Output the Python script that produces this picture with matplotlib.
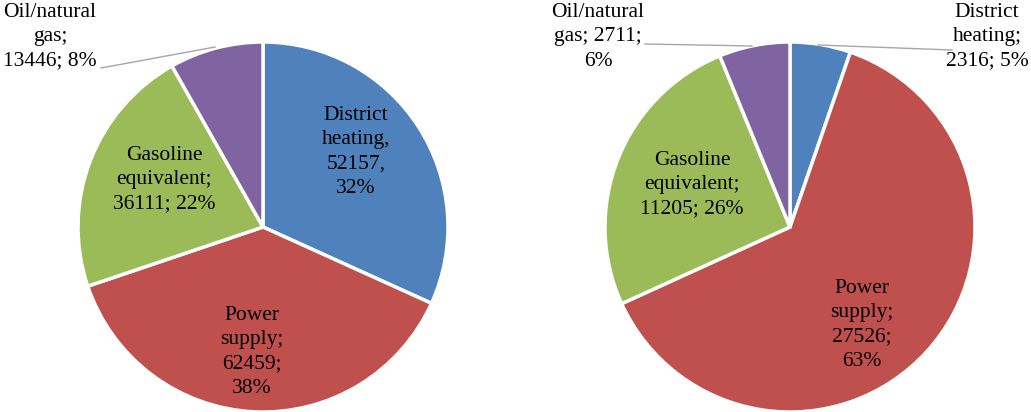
import matplotlib.pyplot as plt

categories = ["District heating", "Power supply", "Gasoline equivalent", "Oil/natural gas"]
left_values = [52157, 62459, 36111, 13446]
left_pcts = [32, 38, 22, 8]
right_values = [2316, 27526, 11205, 2711]
right_pcts = [5, 63, 26, 6]

colors = ["#4F81BD", "#C0504D", "#9BBB59", "#8064A2"]

plt.rcParams['font.family'] = ['Liberation Serif', 'DejaVu Serif']

W, H = 1031, 412
fig = plt.figure(figsize=(W / 100, H / 100), dpi=100)

R = 185


def pie_axes(cx, cy):
    ax = fig.add_axes([(cx - R) / W, (H - cy - R) / H, 2 * R / W, 2 * R / H])
    return ax


def px(cx, cy, x, y):
    # pixel position -> unit-circle coordinates of the pie axes
    return (x - cx) / R, (cy - y) / R


def draw(ax, values):
    ax.pie(values, colors=colors, startangle=90, counterclock=False, radius=1,
           wedgeprops=dict(edgecolor='white', linewidth=2.5), frame=False)
    ax.set_xlim(-1, 1)
    ax.set_ylim(-1, 1)
    ax.set_aspect('equal')
    ax.axis('off')


kw = dict(ha='center', va='center', fontsize=15.5, linespacing=1.36, clip_on=False)
lead = dict(color='#A6A6A6', lw=1, clip_on=False)


def leader(ax, cx, cy, points):
    pts = [px(cx, cy, x, y) for x, y in points]
    ax.plot([p[0] for p in pts], [p[1] for p in pts], **lead)


# left pie
cxl, cyl = 263, 227
axl = pie_axes(cxl, cyl)
draw(axl, left_values)
axl.text(*px(cxl, cyl, 356, 152), "District\nheating,\n%d,\n%d%%" % (left_values[0], left_pcts[0]), **kw)
axl.text(*px(cxl, cyl, 252, 352), "Power\nsupply;\n%d;\n%d%%" % (left_values[1], left_pcts[1]), **kw)
axl.text(*px(cxl, cyl, 164, 180), "Gasoline\nequivalent;\n%d; %d%%" % (left_values[2], left_pcts[2]), **kw)
axl.text(*px(cxl, cyl, 50, 37), "Oil/natural\ngas;\n%d; %d%%" % (left_values[3], left_pcts[3]), **kw)
leader(axl, cxl, cyl, [(101, 68), (112, 66), (215, 47)])

# right pie
cxr, cyr = 790, 227
axr = pie_axes(cxr, cyr)
draw(axr, right_values)
axr.text(*px(cxr, cyr, 987, 37), "District\nheating;\n%d; %d%%" % (right_values[0], right_pcts[0]), **kw)
axr.text(*px(cxr, cyr, 862, 325), "Power\nsupply;\n%d;\n%d%%" % (right_values[1], right_pcts[1]), **kw)
axr.text(*px(cxr, cyr, 692, 185), "Gasoline\nequivalent;\n%d; %d%%" % (right_values[2], right_pcts[2]), **kw)
axr.text(*px(cxr, cyr, 598, 37), "Oil/natural\ngas; %d;\n%d%%" % (right_values[3], right_pcts[3]), **kw)
leader(axr, cxr, cyr, [(645, 44), (752, 46)])
leader(axr, cxr, cyr, [(818, 45), (952, 50)])

fig.savefig("out.png", dpi=100, facecolor='white')
